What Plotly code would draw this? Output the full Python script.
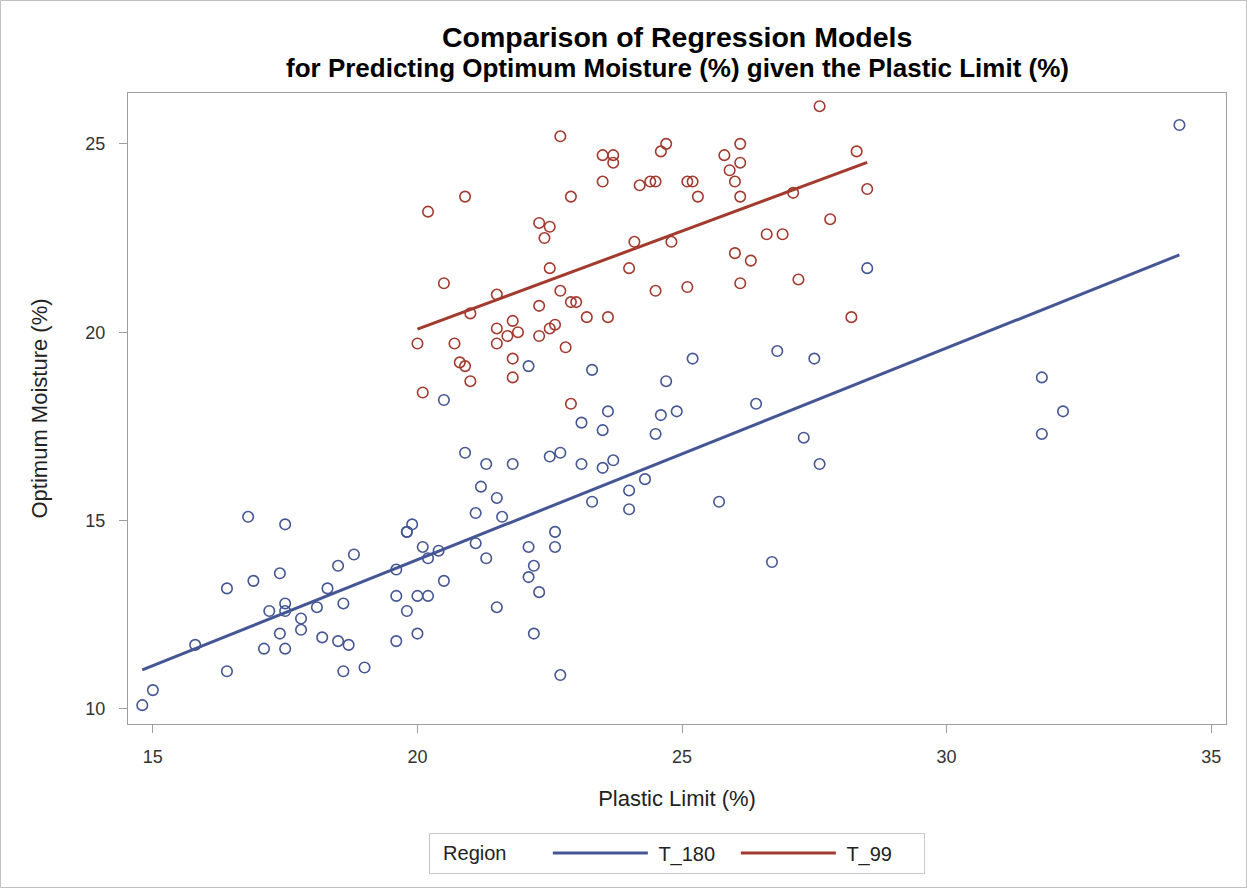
import numpy as np
import plotly.graph_objects as go

# Plastic limit (%) and optimum moisture (%) observations by region
t180_plastic = [14.8, 15.0, 15.8, 16.4, 16.4, 16.8, 16.9, 17.1, 17.2, 17.4, 17.4, 17.5, 17.5, 17.5, 17.5,
                17.8, 17.8, 18.1, 18.2, 18.3, 18.5, 18.5, 18.6, 18.6, 18.7, 18.8, 19.0, 19.6, 19.6, 19.6,
                21.2, 21.5, 21.1, 21.6, 19.9, 19.8, 19.8, 20.1, 20.4, 20.2, 21.1, 21.3, 20.5, 20.0, 20.2,
                19.8, 20.0, 21.5, 22.1, 22.2, 22.1, 22.3, 22.2, 22.6, 22.6, 22.7, 23.3, 24.0, 24.0,
                22.1, 23.3, 20.5, 23.6, 23.1, 23.5, 20.9, 21.3, 21.8, 22.5, 22.7, 23.1, 23.5, 23.7,
                25.2, 24.7, 26.8, 27.5, 26.4, 24.6, 24.9, 24.5, 27.3, 27.6, 24.3, 25.7, 26.7, 28.5,
                34.4, 31.8, 32.2, 31.8]
t180_moisture = [10.1, 10.5, 11.7, 11.0, 13.2, 15.1, 13.4, 11.6, 12.6, 13.6, 12.0, 14.9, 12.8, 12.6, 11.6,
                 12.4, 12.1, 12.7, 11.9, 13.2, 13.8, 11.8, 12.8, 11.0, 11.7, 14.1, 11.1, 13.7, 13.0, 11.8,
                 15.9, 15.6, 15.2, 15.1, 14.9, 14.7, 14.7, 14.3, 14.2, 14.0, 14.4, 14.0, 13.4, 13.0, 13.0,
                 12.6, 12.0, 12.7, 14.3, 13.8, 13.5, 13.1, 12.0, 14.7, 14.3, 10.9, 15.5, 15.8, 15.3,
                 19.1, 19.0, 18.2, 17.9, 17.6, 17.4, 16.8, 16.5, 16.5, 16.7, 16.8, 16.5, 16.4, 16.6,
                 19.3, 18.7, 19.5, 19.3, 18.1, 17.8, 17.9, 17.3, 17.2, 16.5, 16.1, 15.5, 13.9, 21.7,
                 25.5, 18.8, 17.9, 17.3]

t99_plastic = [20.0, 20.7, 21.0, 21.5, 21.8, 21.7, 21.9, 21.5, 22.3, 22.3, 22.5, 22.6, 22.9, 23.0, 23.2,
               23.6, 22.8, 21.8, 20.8, 20.9, 21.0, 21.8, 20.1, 22.9,
               22.7, 23.5, 23.7, 23.7, 23.5, 24.2, 20.9, 20.2, 22.9, 22.3, 22.5, 22.4, 24.1, 22.5, 24.0,
               20.5, 22.7, 21.5,
               27.6, 24.7, 24.6, 26.1, 25.8, 26.1, 25.9, 26.0, 26.1, 28.3, 28.5, 24.4, 24.5, 25.1, 25.2,
               25.3, 27.1, 27.8, 26.6, 26.9, 24.8, 26.0, 26.3, 24.5, 25.1, 26.1, 27.2, 28.2]
t99_moisture = [19.7, 19.7, 20.5, 20.1, 20.3, 19.9, 20.0, 19.7, 20.7, 19.9, 20.1, 20.2, 20.8, 20.8, 20.4,
                20.4, 19.6, 19.3, 19.2, 19.1, 18.7, 18.8, 18.4, 18.1,
                25.2, 24.7, 24.7, 24.5, 24.0, 23.9, 23.6, 23.2, 23.6, 22.9, 22.8, 22.5, 22.4, 21.7, 21.7,
                21.3, 21.1, 21.0,
                26.0, 25.0, 24.8, 25.0, 24.7, 24.5, 24.3, 24.0, 23.6, 24.8, 23.8, 24.0, 24.0, 24.0, 24.0,
                23.6, 23.7, 23.0, 22.6, 22.6, 22.4, 22.1, 21.9, 21.1, 21.2, 21.3, 21.4, 20.4]

# Fitted linear models (intercept, slope) per region
regions = ["T_180", "T_99"]
intercepts = [2.72, 9.66]
slopes = [0.562, 0.521]

x_ticks = [15, 20, 25, 30, 35]
y_ticks = [10, 15, 20, 25]

colors = ["#445694", "#A23A2E"]
FONT = "Liberation Sans, Arial, sans-serif"
W, H = 1247, 888
ML, MR, MT, MB = 128, 21, 93, 164
NBSP = "\u00a0"

fig = go.Figure()

series = [(t180_plastic, t180_moisture), (t99_plastic, t99_moisture)]
for name, (xs, ys), col in zip(regions, series, colors):
    fig.add_trace(go.Scatter(
        x=xs, y=ys, mode="markers", name=name, showlegend=False,
        marker=dict(symbol="circle-open", size=10.5, color=col, line=dict(width=1.6)),
        hoverinfo="x+y",
    ))

for name, (xs, ys), b0, b1, col in zip(regions, series, intercepts, slopes, colors):
    xr = np.array([min(xs), max(xs)])
    fig.add_trace(go.Scatter(
        x=xr, y=b0 + b1 * xr, mode="lines", name=NBSP + name,
        line=dict(color=col, width=3),
    ))

axis_common = dict(
    showgrid=False, zeroline=False, showline=True, linecolor="#9E9E9E", linewidth=1,
    mirror=True, ticks="outside", ticklen=8, tickcolor="#9E9E9E", tickwidth=1,
    tickfont=dict(family=FONT, size=18, color="#333333"),
)

fig.update_layout(
    width=W, height=H,
    margin=dict(l=ML, r=MR, t=MT, b=MB),
    paper_bgcolor="white", plot_bgcolor="white",
    font=dict(family=FONT, color="#222222"),
    xaxis=dict(range=[14.53, 35.28], tickvals=x_ticks, ticklabelstandoff=8,
               title=dict(text="Plastic Limit (%)", font=dict(family=FONT, size=22, color="#222222"),
                          standoff=25),
               **axis_common),
    yaxis=dict(range=[9.6, 26.35], tickvals=y_ticks, ticklabelstandoff=10,
               title=dict(text="Optimum Moisture (%)", font=dict(family=FONT, size=22, color="#222222"),
                          standoff=31),
               **axis_common),
    legend=dict(
        orientation="h", x=0.5, xanchor="center", y=-0.172, yanchor="top",
        title=dict(text=NBSP * 2 + "Region" + NBSP * 6, font=dict(family=FONT, size=20, color="#222222")),
        font=dict(family=FONT, size=20, color="#222222"),
        bordercolor="#C8C8C8", borderwidth=1, bgcolor="white",
        itemwidth=95, entrywidth=78, entrywidthmode="pixels", tracegroupgap=0,
    ),
    annotations=[
        dict(text="<b>Comparison of Regression Models</b>", xref="paper", yref="paper",
             x=0.5, y=1 + (MT - 37) / (H - MT - MB), xanchor="center", yanchor="middle",
             showarrow=False, font=dict(family=FONT, size=28.5, color="#000000")),
        dict(text="<b>for Predicting Optimum Moisture (%) given the Plastic Limit (%)</b>",
             xref="paper", yref="paper",
             x=0.5, y=1 + (MT - 68) / (H - MT - MB), xanchor="center", yanchor="middle",
             showarrow=False, font=dict(family=FONT, size=26, color="#000000")),
    ],
)

# Thin border around the whole graphic
pw, ph = W - ML - MR, H - MT - MB
fig.add_shape(type="rect", xref="paper", yref="paper",
              x0=(0.5 - ML) / pw, x1=(W - 0.5 - ML) / pw,
              y0=-(MB - 0.5) / ph, y1=1 + (MT - 0.5) / ph,
              line=dict(color="#C0C0C0", width=1), fillcolor="rgba(0,0,0,0)", layer="below")

fig.write_html("out.html")
